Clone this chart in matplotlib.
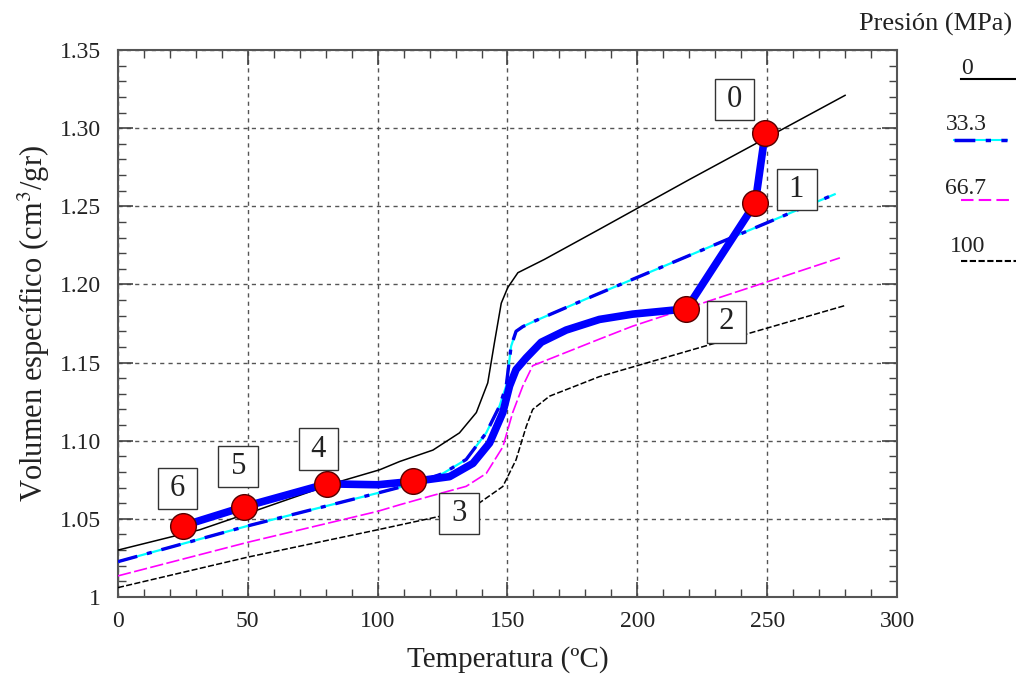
import matplotlib
matplotlib.use("Agg")
import matplotlib.pyplot as plt
from matplotlib.lines import Line2D
from matplotlib.ticker import MultipleLocator

plt.rcParams['font.family'] = ['Liberation Serif', 'DejaVu Serif']
plt.rcParams['mathtext.fontset'] = 'stix'

# ---- data ----
T_p0 = [0, 31.5, 50, 85, 100.8, 108.5, 121.3, 131.5, 138, 142.4, 145, 147.6, 150.1,
        154, 164.2, 185.4, 219.9, 280]
V_p0 = [1.030, 1.043, 1.0535, 1.0737, 1.0814, 1.0867, 1.094, 1.105, 1.118, 1.137, 1.163,
        1.188, 1.198, 1.2075, 1.216, 1.2353, 1.267, 1.321]

T_p33 = [0, 50, 100, 115, 125.1, 134.1, 141.8, 146.9, 149.5, 151.4, 153.3, 155.9,
         160.4, 182.8, 276]
V_p33 = [1.0226, 1.0455, 1.0665, 1.073, 1.079, 1.088, 1.105, 1.122, 1.135, 1.1605,
         1.170, 1.173, 1.1765, 1.1925, 1.2577]

T_p67 = [0, 50, 100, 108.5, 121.3, 134.1, 141.8, 148.2, 152, 155.9, 159.7, 185.4, 198.2, 278]
V_p67 = [1.0135, 1.035, 1.0548, 1.059, 1.065, 1.0708, 1.079, 1.096, 1.118, 1.135, 1.148,
         1.165, 1.1733, 1.217]

T_p100 = [0, 50, 100, 125, 139, 148.2, 153.3, 157.2, 159.7, 166.2, 185.4, 280]
V_p100 = [1.006, 1.0255, 1.043, 1.052, 1.060, 1.0707, 1.0878, 1.109, 1.12, 1.1285,
          1.141, 1.1865]

T_path = [249.2, 245.4, 218.8, 213.6, 198.2, 185.4, 172.6, 163.0, 157.2, 153.3, 150.8,
          148.2, 143.1, 136.7, 127.7, 118.7, 113.8, 100, 80.4, 48.5, 25]
V_path = [1.2968, 1.252, 1.184, 1.1835, 1.181, 1.1776, 1.1708, 1.163, 1.153, 1.1455,
          1.135, 1.118, 1.0985, 1.0855, 1.077, 1.075, 1.074, 1.0718, 1.0724, 1.0577, 1.0455]

point_labels = ['0', '1', '2', '3', '4', '5', '6']
T_points = [249.2, 245.4, 218.8, 113.8, 80.4, 48.5, 25]
V_points = [1.2968, 1.252, 1.184, 1.074, 1.0724, 1.0577, 1.0455]

legend_title = 'Presión (MPa)'
legend_labels = ['0', '33.3', '66.7', '100']

xticks = [0, 50, 100, 150, 200, 250, 300]
yticks = [1.0, 1.05, 1.10, 1.15, 1.20, 1.25, 1.30, 1.35]
ytick_labels = ['1', '1.05', '1.10', '1.15', '1.20', '1.25', '1.30', '1.35']

# label offsets (points) from each marker to its boxed number
label_offsets = [(-22, 24), (30, 10), (29, -9), (33, -23), (-6, 25), (-4, 29), (-4, 27)]

# ---- figure ----
fig = plt.figure(figsize=(10.16, 6.75), dpi=100)
ax = fig.add_axes([0.1161, 0.1156, 0.8829 - 0.1161, 0.9259 - 0.1156])

ax.set_xlim(0, 300)
ax.set_ylim(1.0, 1.35)

ax.grid(True, which='major', linestyle=(0, (3, 3)), color='#555555', linewidth=1.0)
ax.set_axisbelow(True)

ax.plot(T_p0, V_p0, color='black', lw=1.1, zorder=3)
ax.plot(T_p33, V_p33, color='cyan', lw=1.6, zorder=3)
ax.plot(T_p33, V_p33, color='#0000ee', lw=2.4, dashes=(6, 3, 1.5, 3), zorder=3.1)
ax.plot(T_p67, V_p67, color='#ff00ff', lw=1.2, dashes=(8, 2), zorder=3)
ax.plot(T_p100, V_p100, color='black', lw=1.1, dashes=(4, 1.5), zorder=3)

ax.plot(T_path, V_path, color='#0000ff', lw=5.5, solid_capstyle='round',
        solid_joinstyle='round', zorder=4)
ax.plot(T_points, V_points, linestyle='none', marker='o', markersize=18.5,
        markerfacecolor='#ff0000', markeredgecolor='#550000', markeredgewidth=1.0, zorder=5)

for lab, t, v, off in zip(point_labels, T_points, V_points, label_offsets):
    ax.annotate('\u2009' + lab + '\u2009', xy=(t, v), xytext=off, textcoords='offset points',
                ha='center', va='center', fontsize=22, color='#222222',
                bbox=dict(boxstyle='square,pad=0.2', fc='white', ec='#333333', lw=1.0),
                zorder=6)

ax.set_xticks(xticks)
ax.set_yticks(yticks)
ax.set_yticklabels(ytick_labels)
ax.xaxis.set_minor_locator(MultipleLocator(10))
ax.yaxis.set_minor_locator(MultipleLocator(0.01))
ax.tick_params(which='both', direction='in', top=True, right=True, colors='#444444',
               labelcolor='#222222', labelsize=17)
ax.tick_params(which='major', length=11, width=1.2)
ax.tick_params(axis='y', which='major', pad=12)
ax.tick_params(axis='x', which='major', pad=10)
ax.tick_params(which='minor', length=6, width=1.0)
for s in ax.spines.values():
    s.set_color('#555555')
    s.set_linewidth(1.5)

ax.set_xlabel('Temperatura (ºC)', fontsize=21, color='#222222', labelpad=10)
ax.set_ylabel('Volumen específico (cm$^3$/gr)', fontsize=22, color='#222222', labelpad=6)

# ---- legend drawn to the right ----
W, H = 1016, 675
fig.text(936 / W, 1 - 24 / H, legend_title, ha='center', va='center', fontsize=19, color='#222222')
lab_pos = [(967, 69), (966, 124), (966, 188), (968, 246)]
line_pos = [(961, 1016, 79), (954, 1007, 140), (961, 1014, 200), (961, 1016, 261)]
styles = [dict(color='black', lw=1.5),
          dict(color='#0000ee', lw=2.5, dashes=(6, 3, 1.5, 3)),
          dict(color='#ff00ff', lw=1.5, dashes=(6, 2.5)),
          dict(color='black', lw=1.5, dashes=(3, 1.2))]
for lab, (lx, ly), (x0, x1, yy), st in zip(legend_labels, lab_pos, line_pos, styles):
    fig.text(lx / W, 1 - ly / H, lab, ha='center', va='center', fontsize=17, color='#222222')
    if lab == '33.3':
        fig.add_artist(Line2D([x0 / W, x1 / W], [1 - yy / H] * 2, color='cyan', lw=1.5,
                              transform=fig.transFigure))
    fig.add_artist(Line2D([x0 / W, x1 / W], [1 - yy / H] * 2, transform=fig.transFigure, **st))

fig.savefig('out.png', dpi=100)
